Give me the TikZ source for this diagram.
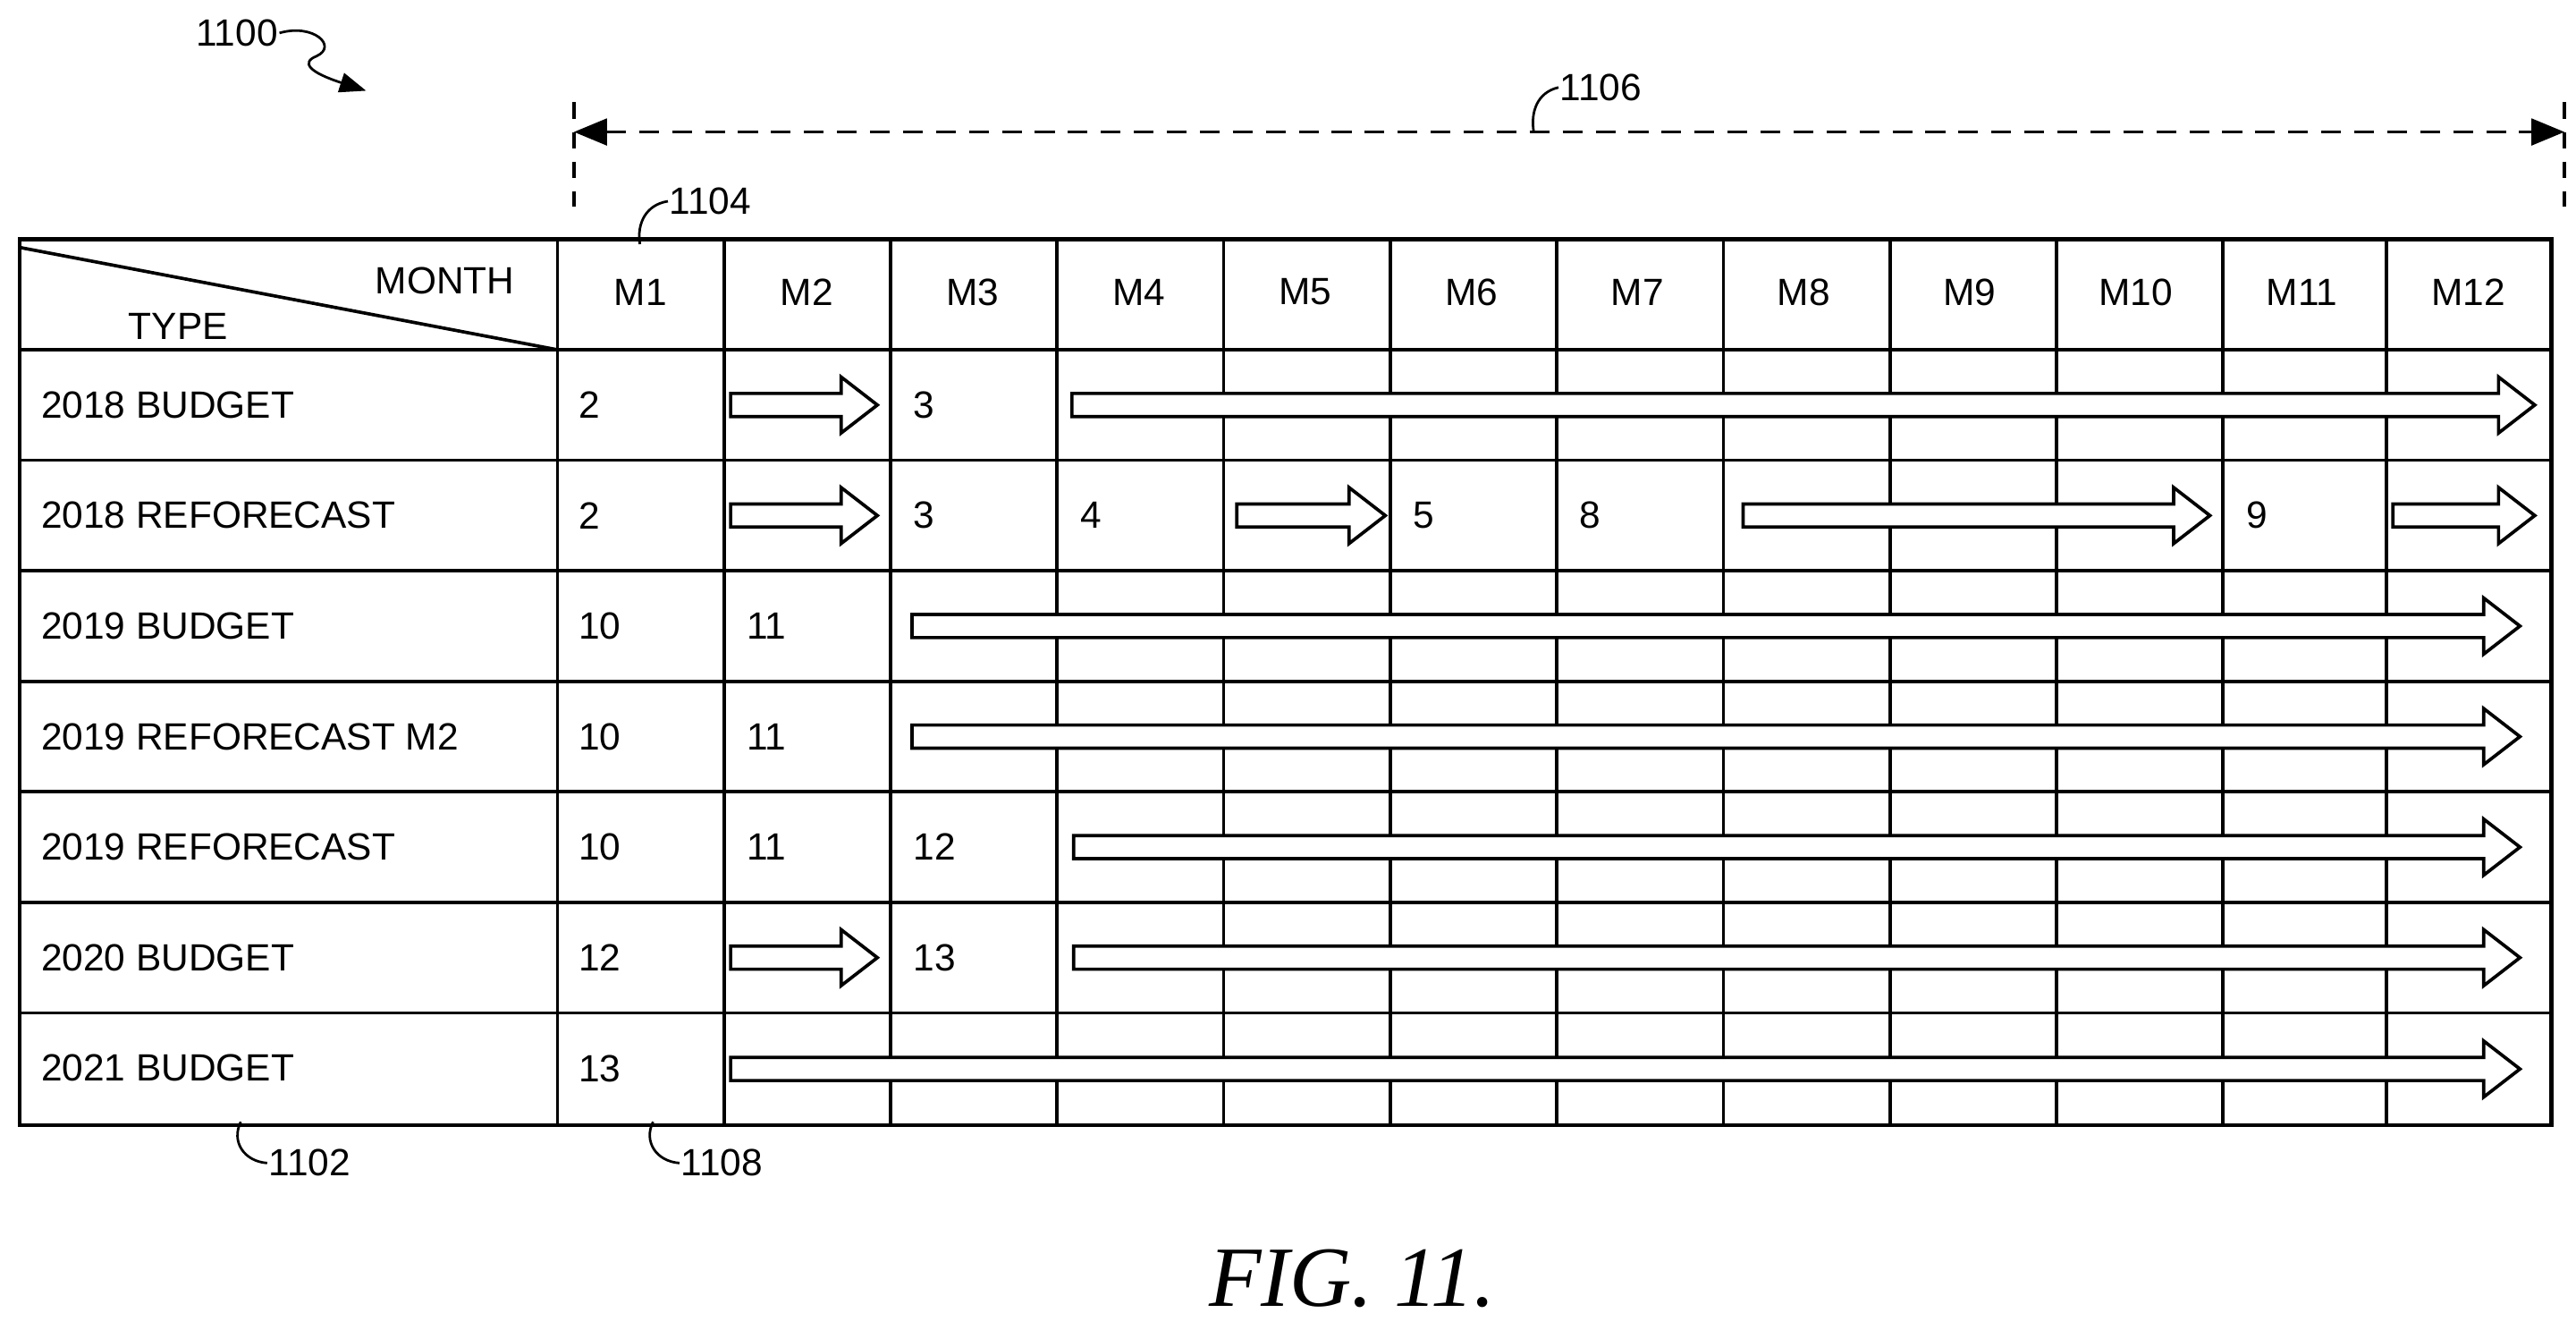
\documentclass[tikz,border=0pt]{standalone}
\usepackage{fontspec}
\setmainfont{Liberation Sans}
\newfontfamily\figfont{Liberation Serif}
\usetikzlibrary{arrows.meta}
\begin{document}
\begin{tikzpicture}[x=1pt,y=-1pt,line width=2pt,
  txt/.style={inner sep=0pt,font=\fontsize{23}{26}\selectfont},
  num/.style={txt,anchor=west},
  barrow/.style={draw,fill=white,line width=2pt,line join=miter},
  lbl/.style={txt}]
\useasboundingbox (0,0) rectangle (1562,806);
% grid
\foreach \x in {439,540,641,742,843,944,1045,1146,1247,1348,1447}
  \draw (\x,145) -- (\x,682);
\foreach \y in {212,279,346,413,480,547,614}
  \draw (12,\y) -- (1547,\y);
\draw (338,145) -- (338,682);
\draw[line width=2.5pt] (12,145) rectangle (1547,682);
\draw (12,150) -- (338,212);
\node[txt,anchor=east] (month) at (313,170) {MONTH};
\node[txt] (type) at (108,198) {TYPE};
% month headers
\foreach \m [count=\i] in {M1,M2,M3,M4,M5,M6,M7,M8,M9,M10,M11,M12}
  \node[txt] (h\i) at ({338+(\i-0.5)*100.75},177) {\m};
% row labels
\foreach \t [count=\i] in {2018 BUDGET,2018 REFORECAST,2019 BUDGET,2019 REFORECAST M2,2019 REFORECAST,2020 BUDGET,2021 BUDGET}
  \node[num] (r\i) at (24,{212+(\i-0.5)*67}) {\t};
% block arrows
\newcommand\barr[3]{% x1 x2 y
  \draw[barrow] (#1,#3-7) -- (#2-22,#3-7) -- (#2-22,#3-17) -- (#2,#3) -- (#2-22,#3+17) -- (#2-22,#3+7) -- (#1,#3+7) -- cycle;}
\barr{443}{532}{245.5}\barr{650}{1537}{245.5}
\barr{443}{532}{312.5}\barr{750}{840}{312.5}\barr{1057}{1340}{312.5}\barr{1451}{1537}{312.5}
\barr{553}{1528}{379.5}
\barr{553}{1528}{446.5}
\barr{651}{1528}{513.5}
\barr{443}{532}{580.5}\barr{651}{1528}{580.5}
\barr{443}{1528}{648}
% numbers
\node[num] (n11) at (350,245.5) {2};
\node[num] (n12) at (553,245.5) {3};
\node[num] (n21) at (350,312.5) {2};
\node[num] (n22) at (553,312.5) {3};
\node[num] (n23) at (654,312.5) {4};
\node[num] (n24) at (856,312.5) {5};
\node[num] (n25) at (957,312.5) {8};
\node[num] (n26) at (1361,312.5) {9};
\node[num] (n31) at (350,379.5) {10};
\node[num] (n32) at (452,379.5) {11};
\node[num] (n41) at (350,446.5) {10};
\node[num] (n42) at (452,446.5) {11};
\node[num] (n51) at (350,513.5) {10};
\node[num] (n52) at (452,513.5) {11};
\node[num] (n53) at (553,513.5) {12};
\node[num] (n61) at (350,580.5) {12};
\node[num] (n62) at (553,580.5) {13};
\node[num] (n71) at (350,648) {13};
% dimension 1106
\coordinate (dl) at (348,80);
\coordinate (dr) at (1555,80);
\draw[dashed,line width=1.8pt,dash pattern=on 10pt off 8pt] (348,62) -- (348,125);
\draw[dashed,line width=1.8pt,dash pattern=on 10pt off 8pt] (1555,62) -- (1555,125);
\draw[line width=2pt,dash pattern=on 12pt off 8pt,{Triangle[length=20pt,width=16pt]}-{Triangle[length=20pt,width=16pt]}] (dl) -- (dr);
\node[lbl,anchor=west] (l1106) at (945,53) {1106};
\coordinate (c1106) at (930,80);
\draw[line width=1.5pt] (c1106) .. controls (928,68) and (932,56) .. (l1106.west);
% 1104
\node[lbl,anchor=west] (l1104) at (405,122) {1104};
\coordinate (c1104) at (388,148);
\draw[line width=1.5pt] (c1104) .. controls (386,135) and (392,124) .. (l1104.west);
% 1100
\node[lbl,anchor=west] (l1100) at (118,20) {1100};
\coordinate (c1100) at (222,55);
\draw[line width=1.5pt,-{Triangle[length=16pt,width=12pt]}] (l1100.east) .. controls (190,14) and (205,28) .. (192,34) .. controls (182,38) and (188,44) .. (c1100);
% 1102
\node[lbl,anchor=west] (l1102) at (162,705) {1102};
\coordinate (c1102) at (146,680);
\draw[line width=1.5pt] (c1102) .. controls (140,692) and (148,704) .. (l1102.west);
% 1108
\node[lbl,anchor=west] (l1108) at (412,705) {1108};
\coordinate (c1108) at (396,680);
\draw[line width=1.5pt] (c1108) .. controls (390,692) and (398,704) .. (l1108.west);
% caption
\node[inner sep=0pt,font=\figfont\itshape\fontsize{52}{56}\selectfont] (fig) at (820,775) {FIG. 11.};
\end{tikzpicture}
\end{document}
